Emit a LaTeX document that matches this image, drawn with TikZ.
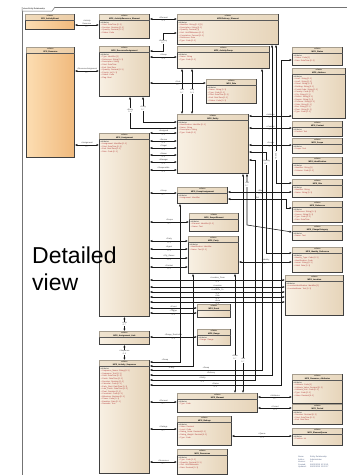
\documentclass[tikz,border=0pt]{standalone}
\usepackage{fontspec}
\setmainfont{Liberation Sans}
\usetikzlibrary{arrows.meta}
\definecolor{bgL}{HTML}{F8F0E3}
\definecolor{bgR}{HTML}{E6D4B9}
\definecolor{hdr}{HTML}{EADBC3}
\definecolor{orL}{HTML}{FCDDB2}
\definecolor{orR}{HTML}{F0B97C}
\definecolor{attr}{HTML}{B23A3A}
\definecolor{legc}{HTML}{5A6A8A}
\newcommand\tf{\fontsize{2}{2.55}\selectfont}
\newcommand\ah{\textcolor{black!80}{attributes}\\}
\tikzset{
  clsbox/.style={draw=black!75, line width=0.9pt, left color=bgL, right color=bgR, inner sep=0pt, anchor=north west},
  orbox/.style={clsbox, left color=orL, right color=orR},
  conn/.style={draw=black!90, line width=0.55pt, {Latex[length=2.4pt,width=2.2pt]}-{Latex[length=2.4pt,width=2.2pt]}},
  lbl/.style={font=\tf, text=black!75, inner sep=0.4pt, align=center},
  lblw/.style={lbl, fill=white},
}
\newcommand\cls[8]{%
  \node[#8, minimum width=#4pt, minimum height=#5pt] (#1) at (#2,#3) {};
  \fill[hdr, opacity=0.6] ([shift={(0.45pt,-0.45pt)}]#1.north west) rectangle ([shift={(-0.45pt,-6.5pt)}]#1.north east);
  \draw[black!65, line width=0.45pt] ([yshift=-6.5pt]#1.north west) -- ([yshift=-6.5pt]#1.north east);
  \node[font=\tf, align=center, inner sep=0pt, anchor=north] (#1t) at ([yshift=-0.8pt]#1.north) {«class»\\\textbf{#6}};
  \node[font=\tf, align=left, inner sep=0pt, anchor=north west, text=attr] (#1a) at ([shift={(1.5pt,-7.6pt)}]#1.north west) {#7};
}
\newcommand\hcon[5]{\draw[conn] (#1.east|-0,#3) -- node[lbl,above]{#4} node[lbl,below]{#5} (#2.west|-0,#3);}
\begin{document}
\begin{tikzpicture}[x=1pt,y=-1pt]
\useasboundingbox (0,0) rectangle (347,475);
\fill[white] (0,0) rectangle (347,475);
% frame
\draw[black!55, line width=0.6pt] (22,475) -- (22,7) -- (347,7);
\draw[black!55, line width=0.5pt, fill=white] (22,7) -- (22,11) -- (52,11) -- (55,7);
\node[font=\tf, anchor=west, inner sep=0pt] (frm) at (23,9) {class Entity Relationship};

% classes
\cls{A}{25}{14}{49}{15}{SPS\_ActivityEvent}{}{orbox}
\cls{B}{26}{47}{48}{110}{SPS\_Resource}{}{orbox}
\cls{C}{99}{14}{50}{24}{MPS\_ActivityResource\_Element}{\ah + Start: DateTime [0..1]\\+ Duration: Duration [0..1]\\+ Quantity: Decimal [0..1]\\+ Status: Code}{clsbox}
\cls{D}{99}{46}{50}{50}{MPS\_ResourceAssignment}{\ah + Type: Identifier [1]\\+ Reference: String [0..1]\\+ Description: String\\+ Start: DateTime\\+ End: DateTime\\+ Quantity: Decimal [0..1]\\+ Priority: Int [0..1]\\+ Status: Code\\+ Flag: Bool}{clsbox}
\cls{E}{177}{14}{101}{30}{MPS/Delivery\_Element}{\ah + Identifier: String [0..1] [1]\\+ Description: String [0..1]\\+ Quantity: Decimal [1]\\+ Unit: UnitOfMeasure [0..1]\\+ Completion: Percent [0..1]\\+ Reference: Date\\+ Type: Code [0..1]}{clsbox}
\cls{F}{177}{46}{92}{22}{MPS\_ActivityGroup}{\ah + Name: String\\+ Type: Code [0..1]}{clsbox}
\cls{G}{292}{47}{50}{18}{MPS\_Status}{\ah + Status: Code [1]\\+ Date: DateTime [0..1]}{clsbox}
\cls{H}{292}{68}{53}{50}{MPS\_Address}{\ah + Line1: String [0..1]\\+ Line2: String [0..1]\\+ Street: String [0..1]\\+ Building: String [0..1]\\+ Postal Code: String [0..1]\\+ Country: Code [0..1]\\+ City: String [0..1]\\+ District: String [0..1]\\+ Region: String [0..1]\\+ Province: String [0..1]\\+ State: String [0..1]\\+ Box: String [0..1]\\+ Floor: String [0..1]\\+ Type: Code [0..1]}{clsbox}
\cls{I}{206}{79}{50}{24}{MPS\_Role}{\ah + Name: String [0..1]\\+ Type: Code [0..1]\\+ Start: DateTime [0..1]\\+ End: DateTime [0..1]\\+ Status: Code [0..1]}{clsbox}
\cls{J}{177}{114}{71}{59}{MPS\_Entity}{\ah + Identification: Identifier [0..1]\\+ Name: String\\+ Description: String\\+ Type: Code [0..1]}{clsbox}
\cls{K}{99}{133}{50}{183}{MPS\_Assignment}{\ah + Assignment: Identifier [0..1]\\+ Start: DateTime [0..1]\\+ End: DateTime [0..1]\\+ Role: Code [0..1]}{clsbox}
\cls{L}{292}{121}{50}{15}{MPS\_Contact}{\ah + Contact: Text}{clsbox}
\cls{M}{292}{138}{50}{15}{MPS\_Scope}{\ah + Scope: Text}{clsbox}
\cls{N}{292}{157}{50}{18}{MPS\_Identification}{\ah + Identifier: String [1]\\+ Scheme: Code [0..1]}{clsbox}
\cls{O}{292}{179}{50}{18}{MPS\_Site}{\ah + Identifier: String\\+ Name: String [0..1]}{clsbox}
\cls{P}{292}{201}{50}{21}{MPS\_Reference}{\ah + Reference: String [0..1]\\+ Source: String [0..1]\\+ Type: Code [0..1]\\+ Date: DateTime}{clsbox}
\cls{Q}{292}{225}{50}{15}{MPS\_ChargeCategory}{\ah + Name: Text}{clsbox}
\cls{R}{292}{247}{50}{25}{MPS\_Identity\_Reference}{\ah + Identity\_Type: Code [0..1]\\+ Identification: Code\\+ Issuer: String [0..1]\\+ Valid: Date [0..1]}{clsbox}
\cls{S}{285}{275}{58}{40}{MPS\_Location}{\ah + LocationIdentification: Identifier [1]\\+ LocationName: Text [0..1]}{clsbox}
\cls{T}{177}{187}{50}{16}{MPS\_GroupAssignment}{\ah + Assignment: Identifier}{clsbox}
\cls{U}{189}{213}{49}{18}{MPS\_ScopeElement}{\ah + Element: Identifier [0..1]\\+ Name: Text}{clsbox}
\cls{V}{188}{236}{50}{37}{MPS\_Party}{\ah + Identification: Identifier\\+ Name: Text [0..1]}{clsbox}
\cls{W}{197}{304}{33}{13}{MPS\_Event}{}{clsbox}
\cls{X}{197}{329}{33}{16}{MPS\_Range}{\ah + Range: Range}{clsbox}
\cls{Y}{99}{331}{50}{13}{MPS\_Assignment\_Link}{}{clsbox}
\cls{Z}{99}{360}{50}{113}{MPS\_Activity\_Sequence}{\ah + Sequence\_Name: String [0..1]\\+ Sequence: Text [0..1]\\+ Start: DateTime [0..1]\\+ Finish: DateTime [0..1]\\+ Duration: Duration [0..1]\\+ Calendar: Code [0..1]\\+ Early\_Start: DateTime [0..1]\\+ Late\_Finish: DateTime [0..1]\\+ Float: Duration [0..1]\\+ Constraint: Code [0..1]\\+ Milestone: Boolean [0..1]\\+ Phase: Code [0..1]\\+ Baseline: Date [0..1]\\+ Remarks: Text}{clsbox}
\cls{AA}{177}{393}{80}{19}{MPS\_Element}{\ah + Type: Code}{clsbox}
\cls{AB}{177}{416}{54}{29}{MPS\_Ratings}{\ah + Value: Decimal\\+ Level: Code\\+ Rating\_Scale: Decimal [0..1]\\+ Rating\_Weight: Decimal [0..1]\\+ Type: Code}{clsbox}
\cls{AC}{177}{449}{50}{25}{MPS\_Resources}{\ah + Type: Code [1..1]\\+ Quantity: Decimal [0..1]\\+ Unit: UnitOfMeasure\\+ Rate: Decimal [0..1]}{clsbox}
\cls{AD}{292}{374}{50}{29}{MPS\_Resource\_Attributes}{\ah + Attribute: Code [1]\\+ Attribute\_Value: Decimal [0..1]\\+ Attribute\_Unit: Code [0..1]\\+ Type: Code [0..1]\\+ Value: Decimal [0..1]}{clsbox}
\cls{AE}{292}{404}{50}{20}{MPS\_Period}{\ah + Duration: Decimal [0..1]\\+ Start: DateTime [0..1]\\+ End: DateTime}{clsbox}
\cls{AF}{292}{428}{50}{17}{MPS\_ElementQueue}{\ah + Position: Int}{clsbox}

% connectors
\hcon{A}{C}{25}{+Activity\\Resource}{0..*}
\hcon{B}{D}{71}{+ResourceAssignment}{0..*}
\hcon{B}{K}{145}{+Assignment}{0..*}
\hcon{C}{E}{19}{+Element}{0..1}
\draw[conn] (D.east|-0,51) -- (163,51) -- node[lblw]{+Delivery\\0..*} (163,33) -- (E.west|-0,33);
\hcon{D}{F}{57}{+Group}{0..1}
\hcon{D}{I}{83}{+Role}{0..*}
\draw[conn] (D.south-|130,0) -- node[lblw,pos=0.45]{+Entity\\0..1} (130,128) -- (J.west|-0,128);
\draw[conn] (D.south-|143,0) -- node[lblw,pos=0.45]{+Party\\0..*} (143,122) -- (J.west|-0,122);
\draw[conn] (F.south-|182,0) -- node[lblw]{+Ent\\0..*} (J.north-|182,0);
\draw[conn] (F.south-|192,0) -- node[lblw]{+Grp\\0..1} (J.north-|192,0);
\hcon{K}{J}{133}{+Assigned}{0..1}
\hcon{K}{J}{141}{+Source}{0..1}
\hcon{K}{J}{148}{+Target}{0..1}
\hcon{K}{J}{155}{+Owner}{0..1}
\hcon{K}{J}{162}{+Manager}{0..1}
\hcon{K}{J}{170}{+Responsible}{0..1}
\hcon{K}{T}{193}{+Group}{0..*}
\hcon{K}{U}{222}{+Scope}{0..*}
\hcon{K}{V}{241}{+Party}{0..1}
\hcon{K}{V}{249}{+Agent}{0..1}
\hcon{K}{V}{258}{+Pty\_Owner}{0..1}
\hcon{K}{V}{267}{+Contact}{0..1}
\hcon{K}{S}{280}{+Location\_From}{0..1}
\hcon{K}{S}{287}{+Location}{0..1}
\hcon{K}{S}{292}{+Location\_To}{0..1}
\hcon{K}{S}{297}{+Site}{0..1}
\hcon{K}{S}{302}{+Area}{0..1}
\hcon{K}{W}{308}{+Event}{0..*}
\hcon{K}{W}{313}{+Trigger}{0..1}
\draw[conn] (K.south) -- node[lblw]{+Link\\0..*} (Y.north);
\draw[conn] (Y.south) -- node[lblw]{+Sequence\\0..1} (Z.north);
\hcon{Y}{X}{337}{+Range\_Restriction}{0..1}
\hcon{Z}{AA}{402}{+Element}{0..*}
\hcon{Z}{AB}{429}{+Ratings}{0..*}
\hcon{Z}{AC}{462}{+Resources}{0..*}
\hcon{AA}{AD}{397}{+Attributes}{0..*}
\hcon{AA}{AE}{408}{+Period}{0..1}
\hcon{AB}{AF}{436}{+Queue}{0..1}
\hcon{J}{H}{116}{+Address}{0..*}
\hcon{J}{L}{128}{+Contact}{0..*}
\hcon{J}{M}{145}{+Scope}{0..*}
\draw[conn] (J.east|-0,152) -- (266,152) -- node[lblw,pos=0.1]{+Identity\\0..*} (266,253) -- (R.west|-0,253);
\draw[conn] (J.east|-0,160) -- (255,160) -- (255,380) -- node[lbl,above,pos=0.5]{+Entity} node[lbl,below,pos=0.5]{0..1} (Z.east|-0,380);
\draw[conn] (E.south-|276,0) -- node[lblw,rotate=90,pos=0.8]{+Site 0..*} (276,183) -- (O.west|-0,183);
\draw[conn] (E.south-|272,0) -- (272,375) -- node[lbl,above]{+Delivery} (Z.east|-0,375);
\draw[conn] (F.south-|262,0) -- (262,370) -- node[lbl,above]{+Group} (Z.east|-0,370);
\draw[conn] (G.west|-0,60) -- (281,60) -- (281,385) -- node[lbl,above]{+Status} node[lbl,below]{0..1} (Z.east|-0,385);
\hcon{T}{O}{192}{+Site}{0..1}
\draw[conn] (T.east|-0,199) -- node[lbl,above]{+Ref} (286,199) -- (286,208) -- (P.west|-0,208);
\hcon{V}{R}{262}{+Identity}{0..*}
\draw[conn] (T.south-|180,0) -- (180,362) -- node[lbl,above]{+Group} (Z.east|-0,362);
\draw[conn] (V.south-|193,0) -- (193,366) -- node[lbl,below]{+Party} (Z.east|-0,366);
\draw[conn] (V.south-|235,0) -- node[lblw,pos=0.7]{+Elem\\0..*} (AA.north-|235,0);
\draw[conn] (J.south-|243,0) -- node[lblw,pos=0.85]{+Ent\\0..*} (AA.north-|243,0);
\draw[conn] (J.south-|247,0) -- node[lblw,pos=0.2]{+Ref\\0..*} (247,225) -- (Q.west|-0,232);

% big text
\node[font=\fontsize{23}{27}\selectfont, anchor=north west, align=left, inner sep=0pt] (dv) at (32,247) {Detailed\\view};

% legend
\node[font=\tf, text=legc, anchor=north west, align=left, inner sep=0pt] (leg1) at (298,456) {Name:\\Author:\\Version:\\Created:\\Updated:};
\node[font=\tf, text=legc, anchor=north west, align=left, inner sep=0pt] (leg2) at (310,456) {Entity Relationship\\Administrator\\1.0\\06/03/2015 10:12:41\\06/03/2015 12:02:17};
\end{tikzpicture}
\end{document}
